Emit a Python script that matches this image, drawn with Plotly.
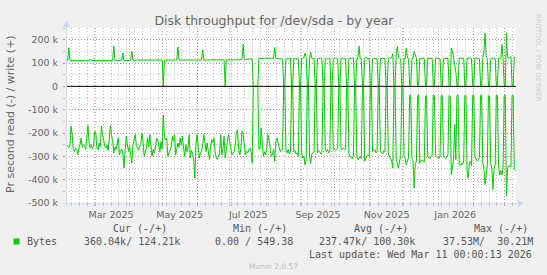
import plotly.graph_objects as go
import pandas as pd

# ---------------- data (daily averages, in k = 1000 bytes/s) ----------------
FIRST_DAY = "2025-02-03 12:00"   # day 0 (plotted at noon of each day)

# write (+), one row per week Mon..Sun
write_k = [
    111, 110, 111, 165, 112, 111, 110,
    111, 111, 110, 111, 112, 111, 111,
    110, 111, 111, 112, 111, 110, 111,
    111, 112, 114, 111, 110, 111, 111,
    110, 111, 111, 112, 111, 111, 110,
    111, 111, 110, 111, 112, 111, 111,
    111, 172, 112, 111, 110, 111, 111,
    111, 112, 143, 111, 110, 111, 111,
    110, 111, 111, 150, 112, 111, 111,
    112, 113, 112, 113, 112, 112, 113,
    112, 113, 113, 112, 113, 112, 113,
    113, 112, 113, 113, 112, 113, 113,
    113, 112, 113, 0, 113, 112, 113,
    113, 113, 112, 113, 113, 112, 113,
    113, 113, 169, 113, 112, 113, 113,
    113, 112, 113, 113, 112, 113, 113,
    113, 113, 112, 113, 113, 112, 113,
    113, 113, 113, 157, 113, 112, 113,
    113, 114, 113, 113, 114, 113, 113,
    114, 113, 114, 113, 114, 114, 113,
    114, 114, 0, 114, 113, 114, 114,
    114, 113, 114, 114, 115, 114, 114,
    114, 115, 114, 115, 181, 114, 115,
    115, 114, 115, 116, 117, 118, 0,
    0, 0, 0, 0, 121, 120, 119,
    120, 119, 121, 120, 119, 120, 121,
    120, 119, 121, 120, 167, 120, 119,
    118, 117, 119, 118, 117, 0, 0,
    118, 120, 119, 118, 121, 0, 0,
    119, 118, 120, 117, 119, 0, 0,
    120, 122, 125, 143, 121, 0, 0,
    119, 147, 120, 118, 120, 0, 0,
    118, 119, 120, 121, 118, 0, 0,
    120, 118, 117, 119, 120, 0, 0,
    118, 120, 122, 119, 118, 0, 0,
    119, 121, 118, 120, 119, 0, 0,
    120, 118, 119, 121, 122, 0, 0,
    118, 120, 172, 119, 118, 0, 0,
    120, 125, 119, 118, 120, 0, 0,
    118, 119, 120, 121, 119, 0, 0,
    119, 120, 118, 121, 120, 0, 0,
    120, 122, 119, 125, 140, 0, 0,
    140, 171, 125, 120, 118, 0, 0,
    120, 118, 164, 121, 119, 4, 3,
    119, 120, 150, 136, 120, 4, 5,
    120, 118, 121, 119, 120, 4, 4,
    121, 119, 120, 118, 120, 3, 4,
    120, 121, 119, 120, 118, 4, 3,
    119, 120, 121, 119, 120, 4, 4,
    164, 150, 120, 86, 64, 4, 3,
    121, 120, 122, 121, 120, 4, 4,
    120, 121, 119, 122, 120, 4, 3,
    120, 121, 120, 119, 118, 4, 4,
    120, 150, 229, 125, 120, 3, 4,
    118, 121, 122, 120, 119, 4, 4,
    120, 118, 122, 179, 120, 4, 3,
    229, 125, 120, 122, 128, 4, 3,
    125, 124.21,
]

# read (-), magnitudes, one row per week Mon..Sun
read_k = [
    248, 250, 257, 262, 255, 171, 205,
    271, 279, 265, 271, 293, 262, 250,
    221, 262, 250, 257, 270, 210, 167,
    240, 264, 250, 268, 257, 193, 200,
    264, 272, 243, 260, 171, 205, 236,
    257, 265, 250, 275, 230, 167, 210,
    236, 286, 260, 271, 250, 221, 293,
    275, 268, 286, 350, 279, 214, 245,
    279, 257, 290, 329, 250, 221, 207,
    250, 264, 275, 257, 250, 200, 236,
    300, 280, 264, 221, 260, 207, 250,
    300, 270, 286, 260, 221, 230, 250,
    280, 236, 270, 124, 220, 230, 221,
    300, 285, 279, 260, 214, 235, 207,
    293, 270, 243, 260, 221, 250, 214,
    265, 300, 250, 280, 260, 207, 307,
    275, 286, 314, 393, 250, 207, 260,
    307, 285, 279, 250, 207, 240, 279,
    243, 275, 314, 260, 229, 240, 221,
    280, 307, 314, 300, 286, 207, 293,
    270, 214, 307, 260, 236, 207, 250,
    264, 293, 285, 279, 250, 193, 186,
    270, 293, 264, 193, 207, 250, 293,
    279, 285, 271, 264, 279, 329, 0,
    0, 0, 0, 0, 271, 265, 179,
    250, 300, 280, 293, 260, 207, 229,
    275, 300, 293, 270, 321, 236, 221,
    250, 264, 280, 271, 271, 0, 0,
    275, 285, 270, 290, 280, 0, 0,
    280, 275, 290, 285, 300, 0, 0,
    290, 307, 300, 336, 310, 0, 0,
    300, 330, 290, 285, 280, 0, 0,
    285, 275, 280, 290, 285, 0, 0,
    275, 280, 270, 285, 280, 0, 0,
    270, 268, 275, 270, 265, 0, 0,
    268, 270, 265, 272, 268, 0, 0,
    290, 300, 305, 310, 295, 0, 0,
    300, 314, 305, 300, 310, 0, 0,
    321, 307, 300, 295, 300, 0, 0,
    280, 275, 270, 285, 280, 0, 0,
    280, 285, 290, 275, 280, 0, 0,
    290, 300, 310, 320, 350, 0, 0,
    310, 330, 350, 320, 300, 0, 0,
    300, 310, 336, 320, 305, 38, 40,
    310, 320, 436, 330, 320, 40, 35,
    330, 321, 315, 320, 325, 42, 40,
    300, 305, 310, 300, 295, 38, 40,
    295, 300, 305, 310, 300, 40, 38,
    300, 305, 310, 300, 295, 40, 42,
    379, 340, 314, 164, 314, 40, 38,
    336, 340, 330, 336, 320, 40, 40,
    360, 393, 330, 321, 340, 38, 40,
    300, 310, 321, 315, 305, 40, 38,
    330, 350, 421, 360, 340, 40, 42,
    330, 350, 443, 350, 340, 38, 40,
    340, 379, 360, 379, 350, 40, 38,
    471, 350, 340, 343, 345, 38, 40,
    357, 360.04,
]

Y_TICKS = [200000, 100000, 0, -100000, -200000, -300000, -400000, -500000]
Y_LABELS = ["200 k", "100 k", "0", "-100 k", "-200 k", "-300 k", "-400 k", "-500 k"]
X_LABEL_AT = ["2025-03-16", "2025-05-16", "2025-07-16", "2025-09-16", "2025-11-16", "2026-01-16"]
X_LABELS = ["Mar 2025", "May 2025", "Jul 2025", "Sep 2025", "Nov 2025", "Jan 2026"]
X_RANGE = ["2025-02-04", "2026-03-11"]
Y_RANGE = [-500000, 250000]

TITLE = "Disk throughput for /dev/sda - by year"
Y_TITLE = "Pr second read (-) / write (+)"
LEGEND_HEAD = ["Cur (-/+)", "Min (-/+)", "Avg (-/+)", "Max (-/+)"]
LEGEND_NAME = "Bytes"
LEGEND_VALS = ["360.04k/ 124.21k", "0.00 / 549.38", "237.47k/ 100.30k", "37.53M/  30.21M"]
LAST_UPDATE = "Last update: Wed Mar 11 00:00:13 2026"
FOOTER = "Munin 2.0.57"
WATERMARK = "RRDTOOL / TOBI OETIKER"

# ---------------- styling ----------------
W, H = 547, 275
L, R, T, B = 66, 31, 28, 72
PW, PH = W - L - R, H - T - B
FONT = "#666666"
LEGFONT = "#555555"
AXIS = "#CFD6F8"
GRID = "rgba(143,143,143,0.55)"
MGRID = "rgba(222,79,79,0.5)"
GREEN = "#00CC00"


def px(x):
    return (x - L) / PW


def py(y):
    return (T + PH - y) / PH


dates = pd.date_range(FIRST_DAY, periods=len(write_k), freq="D")
months = pd.date_range("2025-03-01", "2026-03-01", freq="MS")

fig = go.Figure()
fig.add_trace(go.Scatter(x=dates, y=[v * 1000 for v in write_k], mode="lines",
                         line=dict(color=GREEN, width=1), showlegend=False, hoverinfo="skip"))
fig.add_trace(go.Scatter(x=dates, y=[-v * 1000 for v in read_k], mode="lines",
                         line=dict(color=GREEN, width=1), showlegend=False, hoverinfo="skip"))
# carrier trace for the label axis
fig.add_trace(go.Scatter(x=X_LABEL_AT, y=[0] * len(X_LABEL_AT), xaxis="x2", mode="markers",
                         marker=dict(opacity=0, size=1), showlegend=False, hoverinfo="skip"))

dash = "1px,2px"
fig.update_layout(
    width=W, height=H,
    margin=dict(l=L, r=R, t=T, b=B, pad=0),
    paper_bgcolor="#F0F0F0", plot_bgcolor="#FFFFFF",
    font=dict(family="DejaVu Sans", color=FONT, size=10),
    title=dict(text=TITLE, x=274 / W, xanchor="center", y=1 - 21 / H, yanchor="middle",
               font=dict(size=12.5, color=FONT, family="DejaVu Sans")),
    xaxis=dict(type="date", range=X_RANGE, tickmode="array", tickvals=months,
               ticktext=[""] * len(months), showgrid=True, gridcolor=MGRID, griddash=dash,
               gridwidth=1, ticks="outside", ticklen=2, tickcolor=MGRID,
               minor=dict(dtick=7 * 86400000, tick0="2025-02-09", showgrid=True,
                          gridcolor=GRID, griddash=dash, ticks="outside", ticklen=2, tickcolor=GRID),
               showline=False, zeroline=False, fixedrange=True),
    xaxis2=dict(type="date", overlaying="x", anchor="y", side="bottom", range=X_RANGE,
                tickmode="array", tickvals=X_LABEL_AT, ticktext=X_LABELS, showgrid=False,
                ticks="", showline=False, zeroline=False, ticklabelstandoff=4,
                tickfont=dict(size=9.5, color=FONT, family="DejaVu Sans")),
    yaxis=dict(range=Y_RANGE, tickmode="array", tickvals=Y_TICKS, ticktext=Y_LABELS,
               showgrid=True, gridcolor=MGRID, griddash=dash, gridwidth=1,
               minor=dict(dtick=50000, tick0=0, showgrid=True, gridcolor=GRID, griddash=dash,
                          ticks="outside", ticklen=2, tickcolor=GRID),
               ticks="outside", ticklen=2, tickcolor=MGRID, ticklabelstandoff=3,
               zeroline=False, showline=False, fixedrange=True,
               tickfont=dict(size=9.5, color=FONT, family="DejaVu Sans")),
)

shapes = [
    # zero rule
    dict(type="line", xref="paper", yref="y", x0=0, x1=1, y0=0, y1=0,
         line=dict(color="#000000", width=1), layer="above"),
    # axes
    dict(type="line", xref="paper", yref="paper", x0=px(63), x1=px(519), y0=py(203.5), y1=py(203.5),
         line=dict(color=AXIS, width=1), layer="above"),
    dict(type="line", xref="paper", yref="paper", x0=px(66.5), x1=px(66.5), y0=py(206), y1=py(24),
         line=dict(color=AXIS, width=1), layer="above"),
    # arrows
    dict(type="path", xref="paper", yref="paper",
         path=f"M {px(518)} {py(200)} L {px(524)} {py(203.5)} L {px(518)} {py(207)} Z",
         fillcolor=AXIS, line=dict(width=0), layer="above"),
    dict(type="path", xref="paper", yref="paper",
         path=f"M {px(63)} {py(27)} L {px(66.5)} {py(21)} L {px(70)} {py(27)} Z",
         fillcolor=AXIS, line=dict(width=0), layer="above"),
    # legend colour box
    dict(type="rect", xref="paper", yref="paper", x0=px(13.5), x1=px(19.5), y0=py(238.5), y1=py(244.5),
         fillcolor=GREEN, line=dict(width=0)),
]
fig.update_layout(shapes=shapes)

MONO = "DejaVu Sans Mono"
anns = []


def ann(text, x, y, xanchor="left", size=10, family=MONO, color=LEGFONT, angle=0):
    anns.append(dict(text=text, x=px(x), y=py(y), xref="paper", yref="paper",
                     xanchor=xanchor, yanchor="middle", showarrow=False, borderpad=0,
                     textangle=angle, font=dict(size=size, family=family, color=color)))


for head, x in zip(LEGEND_HEAD, [111.7, 232, 353, 473]):
    ann(head, x, 228.6)
ann(LEGEND_NAME, 26, 241.9)
for val, x in zip(LEGEND_VALS, [83, 213.5, 318, 442]):
    ann(val, x, 241.9)
ann(LAST_UPDATE, 533, 254, xanchor="right")
ann(FOOTER, 273, 266.3, xanchor="center", size=7.5, family="DejaVu Sans", color="#BBBBBB")
ann(Y_TITLE, 10, 114, xanchor="center", size=11, family="DejaVu Sans", color=FONT, angle=-90)
ann(WATERMARK, 538, 58, xanchor="center", size=6.8, family="DejaVu Sans", color="#C8C8C8", angle=90)
fig.update_layout(annotations=anns)

fig.write_html("out.html")
